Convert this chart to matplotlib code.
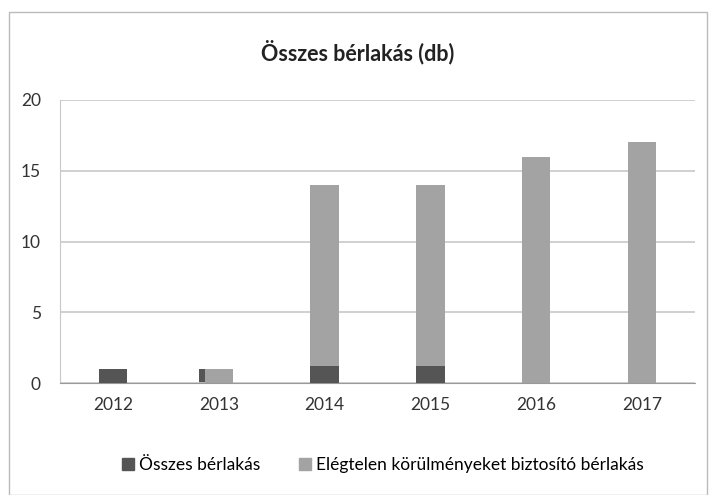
import matplotlib
matplotlib.use("Agg")
import matplotlib.pyplot as plt
import numpy as np

years = ["2012", "2013", "2014", "2015", "2016", "2017"]
osszes = [1, 1, 1.2, 1.2, 0, 0]
elegtelen = [0, 1, 14, 14, 16, 17]

plt.rcParams["font.family"] = ["Lato", "DejaVu Sans"]

fig = plt.figure(figsize=(7.09, 4.95), dpi=100)
ax = fig.add_axes([0.085, 0.226, 0.895, 0.572])

x = np.arange(len(years))
w = 0.27
for i in range(len(years)):
    # where both are equal the grey one is in front and the dark one peeks out
    same = osszes[i] == elegtelen[i]
    ax.bar(x[i] - 0.05 if same else x[i], osszes[i],
           width=w, color="#555555", zorder=1.5 if same else 3)
    if elegtelen[i] > 0:
        ax.bar(x[i], elegtelen[i], width=w, color="#a3a3a3", zorder=2)

ax.set_xlim(-0.5, len(years) - 0.5)
ax.set_ylim(0, 20)
ax.set_yticks([0, 5, 10, 15, 20])
ax.set_xticks(x)
ax.set_xticklabels(years)
ax.tick_params(axis="both", labelsize=12.5, length=0, colors="#333333")
ax.tick_params(axis="x", pad=10)
ax.tick_params(axis="y", pad=14)
ax.grid(axis="y", color="#c8c8c8", linewidth=1.2, zorder=0)
for s in ["top", "right"]:
    ax.spines[s].set_visible(False)
ax.spines["left"].set_color("#c8c8c8")
ax.spines["bottom"].set_color("#999999")

fig.text(0.505, 0.895, "Összes bérlakás (db)", ha="center", va="center",
         fontsize=15.5, fontweight="bold", color="#222222")

handles = [plt.Rectangle((0, 0), 1, 1, color="#555555"),
           plt.Rectangle((0, 0), 1, 1, color="#a3a3a3")]
fig.legend(handles, ["Összes bérlakás", "Elégtelen körülményeket biztosító bérlakás"],
           loc="center", bbox_to_anchor=(0.54, 0.06), ncol=2, frameon=False,
           fontsize=12.5, handlelength=0.7, handleheight=0.7, columnspacing=2.2,
           handletextpad=0.3)

fig.add_artist(plt.Rectangle((0.012, 0.0), 0.985, 0.975, transform=fig.transFigure,
                             fill=False, edgecolor="#bbbbbb", linewidth=1))

plt.savefig("out.png", dpi=100)
plt.close()
